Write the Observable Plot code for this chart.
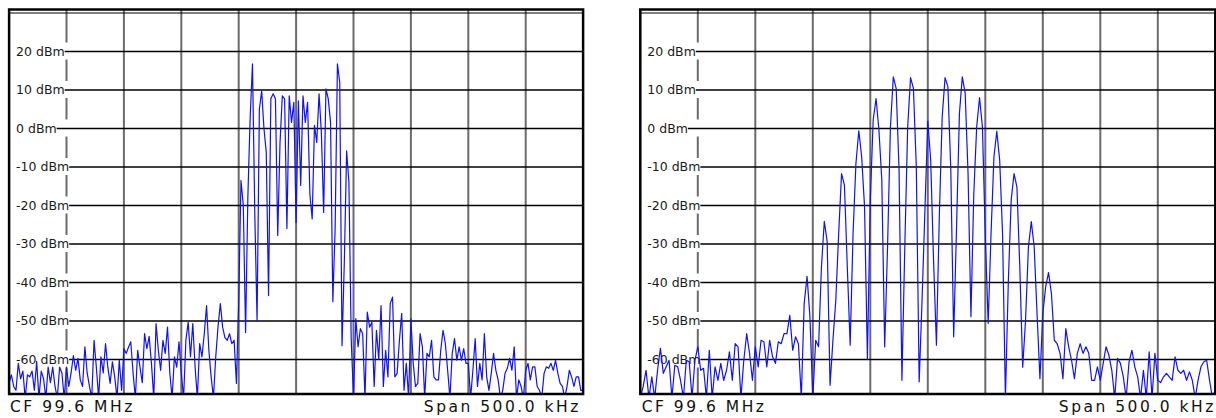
<!DOCTYPE html>
<html><head><meta charset="utf-8">
<script src="https://cdn.jsdelivr.net/npm/d3@7"></script>
<script src="https://cdn.jsdelivr.net/npm/@observablehq/plot@0.6"></script>
<style>
html,body{margin:0;padding:0;background:#fff;}
#root{position:relative;width:1216px;height:418px;overflow:hidden;font-family:"DejaVu Sans",Verdana,sans-serif;}
.panel{position:absolute;top:0;}
.cap{position:absolute;font-size:15.5px;letter-spacing:2.5px;line-height:1;color:#111;white-space:nowrap;}
</style></head><body><div id="root"></div>
<script>
// ---- data ----
const spanStartKHz = -250, spanEndKHz = 250;
const gridFreqs = [-200, -150, -100, -50, 0, 50, 100, 150, 200];
const levelTicks = [20, 10, 0, -10, -20, -30, -40, -50, -60];
const levelTickLabels = ["20 dBm", "10 dBm", "0 dBm", "-10 dBm", "-20 dBm", "-30 dBm", "-40 dBm", "-50 dBm", "-60 dBm"];
const topLevel = 30;
const levelMin = -70, levelMax = 30;
const footerLeft = "CF 99.6 MHz";
const footerRight = "Span 500.0 kHz";

// left trace: 2 kHz per sample, 251 samples
const leftStepKHz = 2;
const leftLevels = [
  -66,-64,-67,-68,-61,-65,-63,-70,-64,-64.5,-63,-68,-60.5,-70,-63,-65,-70,-62,-66,-62,-67,-70,-62,-63.5,-70,
  -62,-67,-63.5,-59,-62.8,-59.7,-65.3,-67,-56.7,-63.5,-67,-70,-55,-62,-70,-59.3,-63.5,-55.9,-62,-66.2,-60.6,-64.5,-70,-60.2,-68,
  -57.2,-58.4,-56.8,-55.4,-63.5,-70,-57.6,-62,-66,-53.3,-57.2,-54,-61,-70,-50.7,-57.6,-62.8,-55,-58.4,-51.6,-63.5,-70,-59.3,-62,-55.4,
  -63.6,-70,-55,-50.3,-59.3,-50.7,-61.9,-70,-55.9,-59.3,-53.3,-46,-57.6,-64.5,-70,-59.3,-51.4,-45.5,-51.6,-54.3,-55,-53.3,-55.9,-55,-66.2,
  -45,-13.5,-20,-53,-17.5,3,16.8,-21.8,-50,5,9.8,0,-6.2,-43.4,7.7,9,7.7,-27.8,-3.6,8.5,7.7,-26,8.5,1.6,6.8,
  -24.4,7.2,-14.8,8.5,1.6,6.8,-17,-23.5,0.8,-3.6,9,-1,-21.8,10.3,7.7,1.6,-45,-26,16.8,12,-56.4,-34.8,-5.8,-14,-54.7,
  -70,-49.4,-56.7,-52,-53.3,-70,-47.7,-51.6,-50.3,-67,-52.4,-60,-46,-67,-57.6,-64.5,-45.5,-43.8,-64.5,-63.6,-55,-48,-68,-61,-70,
  -49.4,-61,-67,-66.2,-53.3,-56.7,-70,-58.4,-59.3,-55,-64.5,-65.3,-65.3,-57.6,-52.4,-55.9,-62.8,-70,-58.4,-54.6,-60.2,-56.7,-60.2,-57.2,-61,
  -61,-70,-62.8,-54.6,-67,-61,-65.3,-53.3,-64.5,-68,-63.6,-58.4,-62.8,-65.3,-70,-68,-63.6,-62.3,-59.7,-62.8,-56.7,-70,-65.3,-67,-70,
  -62.8,-61,-65.3,-61.9,-61.9,-67,-68,-70,-63.6,-61.9,-62.3,-61,-62.8,-60.2,-63.6,-66.2,-67,-70,-67,-62.8,-64.5,-67,-64.5,-64.5,-68,-68
];

// right trace: 2.5 kHz per sample, 201 samples
const rightStepKHz = 2.5;
const rightLevels = [
  -70,-67,-62.8,-70,-64.5,-70,-62.8,-57.1,-63.6,-61.9,
  -60.2,-70,-61.5,-61.9,-65.4,-70,-60.2,-60.6,-70,-60.2,
  -56.7,-62.8,-62.3,-70,-57.6,-70,-61.9,-65.4,-61,-65.4,
  -62.8,-58,-65.4,-55.9,-56.7,-70,-60.2,-53.3,-58.4,-65.4,
  -56.7,-61.9,-55,-55.4,-61.9,-55,-59.3,-61,-55.4,-55.9,
  -53.3,-53.3,-48.5,-57.6,-54.1,-55.9,-70,-45.5,-38.4,-48.9,
  -70,-55,-56.7,-36,-24.1,-29.4,-66.7,-55,-44.6,-27.3,
  -11.7,-14.7,-36,-56.3,-27.3,-9.1,-0.6,-7.4,-20.4,-60,
  -18.6,2.2,7.8,-0.4,-13.4,-56.7,-30.7,0.4,13.4,10.4,
  -10.8,-65.4,-30.7,0.4,13.2,10.4,-10,-65.8,-44.6,-21.2,
  1.9,-8.2,-34.2,-56.3,-22.9,3,13.2,10.8,-10.8,-54.1,
  -25.5,3.9,13.4,9.1,-11.7,-48.9,-16.9,0.4,8,0.4,
  -28,-50.6,-27.3,-7.4,-0.7,-8.2,-27.3,-70,-40,-18.6,
  -11.7,-15.2,-36,-62,-49.8,-30.7,-24.2,-30.7,-48.1,-65,
  -48.1,-41.1,-37.4,-42.9,-55,-55.9,-58.4,-65,-52,-56.7,
  -60.2,-65,-58.4,-55.9,-58.4,-56.7,-58.4,-65.4,-65.4,-61.9,
  -65.4,-61,-56.7,-58.9,-62.8,-70,-59.7,-61,-64.5,-70,
  -60.6,-57.6,-61.9,-64.5,-70,-62.8,-70,-58,-70,-58.4,
  -65.4,-66,-64.5,-63.6,-64.5,-65.4,-59.3,-62.8,-63.6,-62.8,
  -65.4,-63.2,-65.4,-70,-65.4,-61.9,-60.6,-60.2,-65.4,-70,
  -68
];

// ---- layout ----
const W = 608, H = 397, mTop = 9, mBottom = 3.5;
const yTopPx = 12.5, yBottomPx = 397.5;
const FONT = "'DejaVu Sans', Verdana, sans-serif";
const ctx = document.createElement("canvas").getContext("2d");
ctx.font = "12.5px 'DejaVu Sans'";
const widths = levelTickLabels.map(t => ctx.measureText(t).width);

function panel(levels, stepKHz, mLeft, mRight) {
  const pxPerKHz = (W - mLeft - mRight) / (spanEndKHz - spanStartKHz);
  const pxPerDB = (yBottomPx - yTopPx) / (levelMax - levelMin);
  const k = px => px / pxPerKHz;
  const trace = levels.map((v, i) => ({f: spanStartKHz + stepKHz * i, v}));
  const ticks = levelTicks.map((v, i) => ({v, label: levelTickLabels[i], w: widths[i]}));
  return Plot.plot({
    width: W, height: H,
    marginTop: mTop, marginBottom: mBottom, marginLeft: mLeft, marginRight: mRight,
    x: {domain: [spanStartKHz, spanEndKHz], axis: null},
    y: {domain: [levelMin, levelMax], range: [yBottomPx, yTopPx], axis: null},
    style: {fontFamily: FONT, background: "white", overflow: "visible"},
    marks: [
      Plot.ruleX(gridFreqs, {stroke: "#6b6b6b", strokeWidth: 2}),
      Plot.ruleY([topLevel], {stroke: "#000", strokeWidth: 1.2}),
      Plot.rect(ticks, {
        x1: () => spanStartKHz + k(5), x2: () => spanStartKHz + k(65),
        y1: d => d.v - 8.5 / pxPerDB, y2: d => d.v + 8.5 / pxPerDB, fill: "white"
      }),
      Plot.ruleY(ticks, {y: "v", x1: d => spanStartKHz + k(7 + d.w + 0.5), x2: () => spanEndKHz, stroke: "#000", strokeWidth: 1.6}),
      Plot.text(ticks, {x: () => spanStartKHz, y: "v", dx: 7, text: "label", textAnchor: "start", fontSize: 12.5, fill: "#1a1a1a"}),
      Plot.line(trace, {x: "f", y: "v", stroke: "#1010ff", strokeWidth: 1.2, clip: true}),
      Plot.frame({stroke: "#000", strokeWidth: 2.5})
    ]
  });
}

const root = document.getElementById("root");
function place(el, left) { el.classList.add("panel"); el.style.left = left + "px"; root.appendChild(el); }
place(panel(leftLevels, leftStepKHz, 8.6, 25.4), 0);
place(panel(rightLevels, rightStepKHz, 31.8, 1.2), 608);

function caption(text, pos) {
  const d = document.createElement("div");
  d.className = "cap";
  d.textContent = text;
  d.style.top = "400.4px";
  if (pos.left != null) d.style.left = pos.left + "px";
  if (pos.right != null) d.style.right = pos.right + "px";
  root.appendChild(d);
}
caption(footerLeft, {left: 10});
caption(footerRight, {right: 1216 - 578.3 - 2.5});
caption(footerLeft, {left: 641.7});
caption(footerRight, {right: 1216 - 1213.3 - 2.5});
</script>
</body></html>
